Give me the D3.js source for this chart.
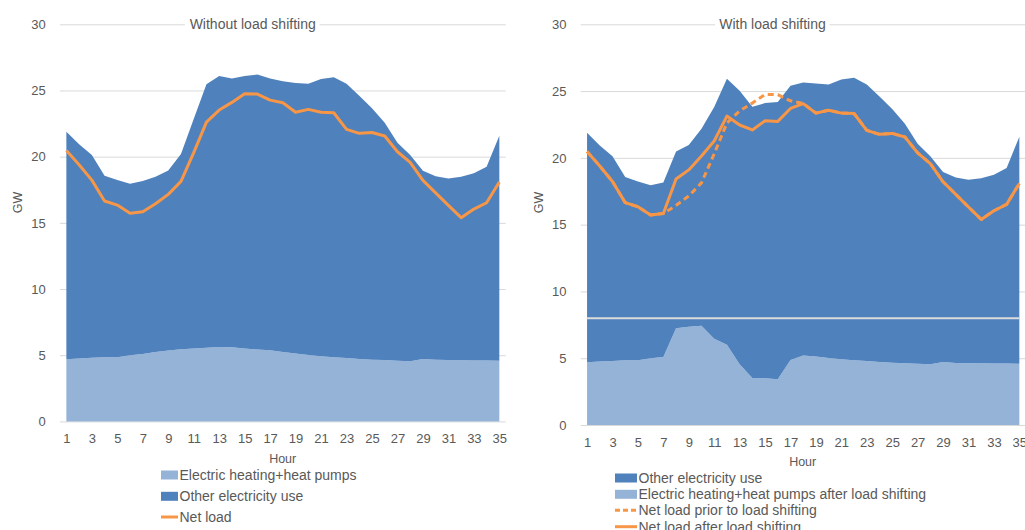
<!DOCTYPE html>
<html>
<head>
<meta charset="utf-8">
<script src="https://cdn.jsdelivr.net/npm/d3@7"></script>
<style>
  html, body { margin: 0; padding: 0; background: #ffffff; }
  svg { display: block; font-family: "Liberation Sans", Arial, sans-serif; }
</style>
</head>
<body>
<svg id="chart" width="1025" height="530"></svg>
<script>
// Hourly load profile, GW
const hours = [1,2,3,4,5,6,7,8,9,10,11,12,13,14,15,16,17,18,19,20,21,22,23,24,25,26,27,28,29,30,31,32,33,34,35];
const hourTicks = [1,3,5,7,9,11,13,15,17,19,21,23,25,27,29,31,33,35];
const gwTicks = [0,5,10,15,20,25,30];

// Electric heating + heat pumps, original schedule
const heating = [4.70,4.75,4.80,4.85,4.85,5.00,5.10,5.25,5.36,5.45,5.50,5.56,5.62,5.60,5.50,5.43,5.37,5.25,5.13,5.02,4.93,4.85,4.79,4.72,4.66,4.63,4.59,4.55,4.72,4.65,4.63,4.62,4.61,4.60,4.58];
// Electric heating + heat pumps after load shifting
const heatingShifted = [4.70,4.75,4.80,4.85,4.85,5.00,5.10,7.24,7.36,7.43,6.46,6.01,4.54,3.52,3.50,3.42,4.87,5.20,5.13,5.02,4.93,4.85,4.79,4.72,4.66,4.63,4.59,4.55,4.72,4.65,4.63,4.62,4.61,4.60,4.58];
// Other electricity use (same in both cases)
const otherUse = [17.18,16.18,15.32,13.71,13.38,12.95,13.06,13.23,13.60,14.75,17.34,19.92,20.48,20.30,20.60,20.77,20.53,20.45,20.43,20.48,20.93,21.15,20.71,19.88,18.99,17.93,16.46,15.57,14.22,13.88,13.73,13.86,14.13,14.64,17.00];
// Net load before shifting
const netLoad = [20.47,19.39,18.23,16.65,16.34,15.72,15.84,16.44,17.15,18.13,20.30,22.61,23.52,24.10,24.75,24.73,24.27,24.07,23.35,23.57,23.35,23.32,22.06,21.76,21.83,21.56,20.37,19.57,18.21,17.27,16.32,15.39,16.04,16.52,18.08];
// Net load after shifting
const netLoadShifted = [20.47,19.39,18.23,16.65,16.34,15.72,15.84,18.42,19.10,20.14,21.26,23.13,22.46,22.09,22.78,22.73,23.70,24.06,23.35,23.57,23.35,23.32,22.06,21.76,21.83,21.56,20.37,19.57,18.21,17.27,16.32,15.39,16.04,16.52,18.08];
// Horizontal reference level on the shifted chart
const referenceLevel = 8;

const COLORS = {
  heating: "#95b3d7",
  other: "#4f81bd",
  net: "#f79646",
  grid: "#d9d9d9",
  text: "#595959"
};

const svg = d3.select("#chart");

function drawPanel(cfg) {
  const g = svg.append("g");
  const x = d3.scalePoint().domain(hours).range([cfg.left, cfg.right]).padding(0.5);
  const y = d3.scaleLinear().domain([0, 30]).range([cfg.bottom, cfg.top]);

  // gridlines + y tick labels
  const yAxis = g.append("g")
    .attr("transform", `translate(${cfg.left},0)`)
    .call(d3.axisLeft(y).tickValues(gwTicks).tickSize(-(cfg.right - cfg.left)).tickPadding(14.3));
  yAxis.select(".domain").remove();
  yAxis.selectAll(".tick line").attr("stroke", COLORS.grid).attr("stroke-width", 1);
  yAxis.selectAll(".tick text").attr("fill", COLORS.text).style("font-size", "13px")
    .style("font-family", "Liberation Sans, Arial, sans-serif");

  // stacked areas
  const table = hours.map((h, i) => ({ hour: h, heat: cfg.heat[i], other: otherUse[i] }));
  const stack = d3.stack().keys(["heat", "other"])(table);
  const area = d3.area()
    .x(d => x(d.data.hour))
    .y0(d => y(d[0]))
    .y1(d => y(d[1]));
  g.append("g").selectAll("path").data(stack).join("path")
    .attr("d", area)
    .attr("fill", d => d.key === "heat" ? COLORS.heating : COLORS.other);

  if (cfg.reference) {
    g.append("line")
      .attr("x1", x(hours[0])).attr("x2", x(hours[hours.length - 1]))
      .attr("y1", y(referenceLevel)).attr("y2", y(referenceLevel))
      .attr("stroke", "#dcdcdc").attr("stroke-width", 2);
  }

  const line = d3.line().x((d, i) => x(hours[i])).y(d => y(d));
  cfg.lines.forEach(l => {
    g.append("path")
      .attr("d", line(l.values))
      .attr("fill", "none")
      .attr("stroke", COLORS.net)
      .attr("stroke-width", 3)
      .attr("stroke-linejoin", "round")
      .attr("stroke-dasharray", l.dashed ? "6,4" : null);
  });

  // x axis labels
  const xAxis = g.append("g")
    .attr("transform", `translate(0,${cfg.bottom})`)
    .call(d3.axisBottom(x).tickValues(hourTicks).tickSize(0).tickPadding(12.8));
  xAxis.select(".domain").remove();
  xAxis.selectAll(".tick text").attr("fill", COLORS.text).style("font-size", "13px")
    .style("font-family", "Liberation Sans, Arial, sans-serif");

  // axis titles
  g.append("text").attr("x", cfg.hourX).attr("y", cfg.hourY)
    .attr("text-anchor", "middle").attr("fill", COLORS.text).style("font-size", "12.5px")
    .text("Hour");
  g.append("text")
    .attr("transform", `translate(${cfg.gwX},202.5) rotate(-90)`)
    .attr("text-anchor", "middle").attr("dy", "0.35em")
    .attr("fill", COLORS.text).style("font-size", "12.5px")
    .text("GW");

  // title over the top gridline
  g.append("rect")
    .attr("x", cfg.titleBox[0]).attr("width", cfg.titleBox[1] - cfg.titleBox[0])
    .attr("y", 16).attr("height", 16).attr("fill", "#ffffff");
  g.append("text").attr("x", cfg.titleX).attr("y", 29.3)
    .attr("text-anchor", "middle").attr("fill", COLORS.text).style("font-size", "14px")
    .text(cfg.title);

  // legend
  const lg = g.append("g");
  cfg.legend.forEach((item, i) => {
    const cy = cfg.legendY[i];
    if (item.type === "rect") {
      lg.append("rect").attr("x", cfg.legendX).attr("y", cy - 4.5)
        .attr("width", cfg.swatchW).attr("height", 9).attr("fill", item.color);
    } else {
      lg.append("line").attr("x1", cfg.legendX).attr("x2", cfg.legendX + cfg.swatchW)
        .attr("y1", cy).attr("y2", cy)
        .attr("stroke", item.color).attr("stroke-width", 3)
        .attr("stroke-dasharray", item.dashed ? "5,3" : null);
    }
    lg.append("text").attr("x", cfg.legendX + cfg.swatchW + 1.5).attr("y", cy + 5)
      .attr("fill", COLORS.text).style("font-size", "14px").text(item.label);
  });
}

drawPanel({
  left: 60, right: 505.7, top: 24.3, bottom: 421.4,
  heat: heating,
  lines: [{ values: netLoad }],
  reference: false,
  title: "Without load shifting", titleX: 252.7, titleBox: [185, 319.5],
  hourX: 282.7, hourY: 462.5, gwX: 17.7,
  legendX: 161, swatchW: 17, legendY: [475, 496.3, 517],
  legend: [
    { type: "rect", color: COLORS.heating, label: "Electric heating+heat pumps" },
    { type: "rect", color: COLORS.other, label: "Other electricity use" },
    { type: "line", color: COLORS.net, label: "Net load" }
  ]
});

drawPanel({
  left: 580.7, right: 1025.7, top: 24.3, bottom: 425,
  heat: heatingShifted,
  lines: [{ values: netLoad, dashed: true }, { values: netLoadShifted }],
  reference: true,
  title: "With load shifting", titleX: 772.5, titleBox: [715, 829.5],
  hourX: 802.7, hourY: 466, gwX: 538.3,
  legendX: 615, swatchW: 22, legendY: [478, 494.3, 510.3, 526.7],
  legend: [
    { type: "rect", color: COLORS.other, label: "Other electricity use" },
    { type: "rect", color: COLORS.heating, label: "Electric heating+heat pumps after load shifting" },
    { type: "line", color: COLORS.net, dashed: true, label: "Net load prior to load shifting" },
    { type: "line", color: COLORS.net, label: "Net load after load shifting" }
  ]
});
</script>
</body>
</html>
